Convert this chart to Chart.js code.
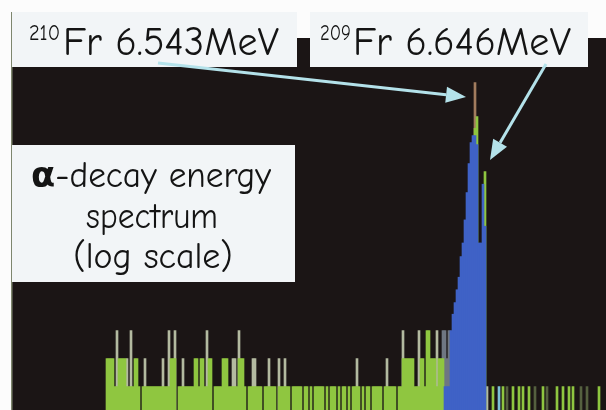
<!DOCTYPE html>
<html>
<head>
<meta charset="utf-8">
<script src="https://cdn.jsdelivr.net/npm/chart.js@4.4.1/dist/chart.umd.min.js"></script>
<style>
  html, body { margin: 0; padding: 0; background: #fcfcfc; }
  #wrap { width: 606px; height: 410px; position: relative; }
</style>
</head>
<body>
<div id="wrap"><canvas id="c" width="606" height="410"></canvas></div>
<script>
// Alpha-decay energy spectrum, counts per channel on a log scale.
const channelCount = 297;
const channels = Array.from({ length: channelCount }, (_, i) => i);

// Singles (green) counts, channel 0..296
const greenCounts = [
  0,0,0,0,0,0,0,0,0,0,  0,0,0,0,0,0,0,0,0,0,
  0,0,0,0,0,0,0,0,0,0,  0,0,0,0,0,0,0,0,0,0,
  0,0,0,0,0,0,0,2,2,2,  2,1,1,2,2,2,2,1,1,1,
  1,2,2,1,0,1,1,1,1,1,  1,1,1,1,1,1,1,1,1,2,
  2,2,0,1,1,1,1,1,1,1,  1,2,2,1,2,2,1,1,2,2,
  0,1,1,1,1,2,2,2,1,1,  1,1,1,2,2,2,1,0,1,1,
  1,1,1,1,1,0,1,1,1,1,  1,1,0,1,1,1,1,1,1,0,
  1,1,1,1,1,0,1,1,0,1,  0,1,1,1,1,1,0,1,0,1,
  1,1,0,1,0,1,1,0,1,0,  1,1,1,1,0,1,0,1,1,0,
  1,1,1,1,1,0,1,1,1,1,  1,1,0,1,1,2,2,2,2,2,
  2,1,1,1,2,2,1,4,4,2,  2,2,1,2,2,2,0,0,0,0,
  0,0,0,0,0,0,0,0,0,0,  0,600,800,0,0,0,205,0,0,0,
  1,0,0,0,0,1,0,0,0,0,  1,0,0,1,0,1,0,0,1,0,
  0,0,0,0,0,1,0,0,0,0,  0,0,1,0,0,1,0,0,1,0,
  1,0,0,0,0,0,0,0,0,0,  0,0,0,1,0,0,0
];

// Pale single-channel spikes
const paleChannels = [52, 57, 59, 66, 75, 78, 81, 85, 97, 110, 111, 113, 120, 121, 128, 133, 136, 172, 187, 195, 203, 212, 237];
const paleCounts   = [ 4,  2,  4,  2,  2,  4,  4,  2,  4,   2,   2,   4,   2,   2,   2,   2,   2,   2,   2,   4,   4,   4,   1];

// Slate spikes at the foot of the peak
const slateChannels = [215, 216, 217, 218];
const slateCounts   = [4, 4, 2, 4];

// Gated (blue) counts around the Fr lines
const blueChannels = [216, 217, 218, 219, 220, 221, 222, 223, 224, 225, 226, 227, 228, 229, 230, 231, 232, 233, 234, 235, 236];
const blueCounts   = [  1,   1,   1,   4,   6,   8,  11,  15,  25,  35,  62, 122, 250, 420, 500, 500, 400,  35,  35, 150,  53];

// Topmost channel of the 210Fr line
const tipChannels = [231];
const tipCounts   = [1860];

const cyanChannels = [243];
const cyanCounts   = [1];

const dimChannels = [234, 247, 261, 267, 284, 287];
const dimCounts   = [1, 1, 1, 1, 1, 1];

function spread(chs, vals) {
  const out = new Array(channelCount).fill(null);
  chs.forEach((c, i) => { out[c] = vals[i]; });
  return out;
}
const nz = arr => arr.map(v => (v > 0 ? v : null));

const COLORS = {
  page: '#fcfcfc',
  plot: '#1b1515',
  green: '#8fc640',
  pale: '#b3baa0',
  slate: '#6f7682',
  blue: '#3f62c6',
  tip: '#a27c5e',
  cyan: '#7cc2d8',
  dim: '#55603f',
  box: '#f2f5f7',
  arrow: '#b4e2ea',
  text: '#141414',
  axis: '#7e866e'
};

const barBase = { grouped: false, barPercentage: 1, categoryPercentage: 1, borderWidth: 0 };

const FONT = "'Comic Sans MS', 'Comic Neue', 'DejaVu Sans', sans-serif";

// Draws a run of text pieces at a given size, squeezed horizontally to fit maxWidth.
function drawText(ctx, parts, x, baseline, size, maxWidth, center) {
  let w = 0;
  parts.forEach(p => {
    ctx.font = `${p.bold ? 'bold ' : ''}${size}px ${FONT}`;
    w += ctx.measureText(p.t).width;
  });
  const sx = Math.min(1, maxWidth / w);
  const drawnW = w * sx;
  const startX = center ? x - drawnW / 2 : x;
  ctx.save();
  ctx.translate(startX, baseline);
  ctx.scale(sx, 1);
  ctx.textBaseline = 'alphabetic';
  ctx.textAlign = 'left';
  let cx = 0;
  parts.forEach(p => {
    ctx.font = `${p.bold ? 'bold ' : ''}${size}px ${FONT}`;
    ctx.fillText(p.t, cx, 0);
    cx += ctx.measureText(p.t).width;
  });
  ctx.restore();
}

function arrow(ctx, x0, y0, x1, y1) {
  const ang = Math.atan2(y1 - y0, x1 - x0);
  const headLen = 20, headHalf = 8;
  const bx = x1 - headLen * Math.cos(ang), by = y1 - headLen * Math.sin(ang);
  ctx.strokeStyle = COLORS.arrow;
  ctx.fillStyle = COLORS.arrow;
  ctx.lineWidth = 3;
  ctx.beginPath();
  ctx.moveTo(x0, y0);
  ctx.lineTo(bx, by);
  ctx.stroke();
  ctx.beginPath();
  ctx.moveTo(x1, y1);
  ctx.lineTo(bx + headHalf * Math.sin(ang), by - headHalf * Math.cos(ang));
  ctx.lineTo(bx - headHalf * Math.sin(ang), by + headHalf * Math.cos(ang));
  ctx.closePath();
  ctx.fill();
}

const backdrop = {
  id: 'backdrop',
  beforeDraw(chart) {
    const { ctx, chartArea: a } = chart;
    ctx.save();
    ctx.fillStyle = COLORS.page;
    ctx.fillRect(0, 0, chart.width, chart.height);
    ctx.fillStyle = COLORS.plot;
    ctx.fillRect(a.left, a.top, a.right - a.left, a.bottom - a.top);
    ctx.restore();
  },
  afterDraw(chart) {
    const { ctx } = chart;
    ctx.save();
    // left axis rule
    ctx.fillStyle = COLORS.axis;
    ctx.fillRect(11, 12, 1.5, 398);

    // label boxes
    ctx.fillStyle = COLORS.box;
    ctx.fillRect(12, 12, 285, 55);
    ctx.fillRect(310, 12, 278, 55);
    ctx.fillRect(12, 145, 283, 137);

    ctx.fillStyle = COLORS.text;
    drawText(ctx, [{ t: '210' }], 29, 40, 22, 31, false);
    drawText(ctx, [{ t: 'Fr 6.543MeV' }], 63, 55, 40, 216, false);
    drawText(ctx, [{ t: '209' }], 320, 40, 22, 31, false);
    drawText(ctx, [{ t: 'Fr 6.646MeV' }], 353, 55, 40, 218, false);

    drawText(ctx, [{ t: '\u03b1', bold: true }, { t: '-decay energy' }], 151, 187, 36, 240, true);
    drawText(ctx, [{ t: 'spectrum' }], 152, 228, 36, 132, true);
    drawText(ctx, [{ t: '(log scale)' }], 153, 268, 36, 184, true);

    arrow(ctx, 158, 63, 466, 97);
    arrow(ctx, 546, 64, 490, 160);
    ctx.restore();
  }
};

new Chart(document.getElementById('c'), {
  type: 'bar',
  data: {
    labels: channels,
    datasets: [
      { ...barBase, label: 'gated', data: spread(blueChannels, blueCounts), backgroundColor: COLORS.blue },
      { ...barBase, label: 'cyan', data: spread(cyanChannels, cyanCounts), backgroundColor: COLORS.cyan },
      { ...barBase, label: 'singles', data: nz(greenCounts), backgroundColor: COLORS.green },
      { ...barBase, label: 'pale', data: spread(paleChannels, paleCounts), backgroundColor: COLORS.pale },
      { ...barBase, label: 'slate', data: spread(slateChannels, slateCounts), backgroundColor: COLORS.slate },
      { ...barBase, label: 'tip', data: spread(tipChannels, tipCounts), backgroundColor: COLORS.tip },
      { ...barBase, label: 'dim', data: spread(dimChannels, dimCounts), backgroundColor: COLORS.dim }
    ]
  },
  options: {
    responsive: false,
    animation: false,
    devicePixelRatio: 1,
    layout: { padding: { left: 12, top: 38, right: 0, bottom: 0 } },
    plugins: { legend: { display: false }, tooltip: { enabled: false } },
    scales: {
      x: { display: false, offset: true },
      y: { type: 'logarithmic', display: false, min: 0.56, max: 5600 }
    }
  },
  plugins: [backdrop]
});
</script>
</body>
</html>
